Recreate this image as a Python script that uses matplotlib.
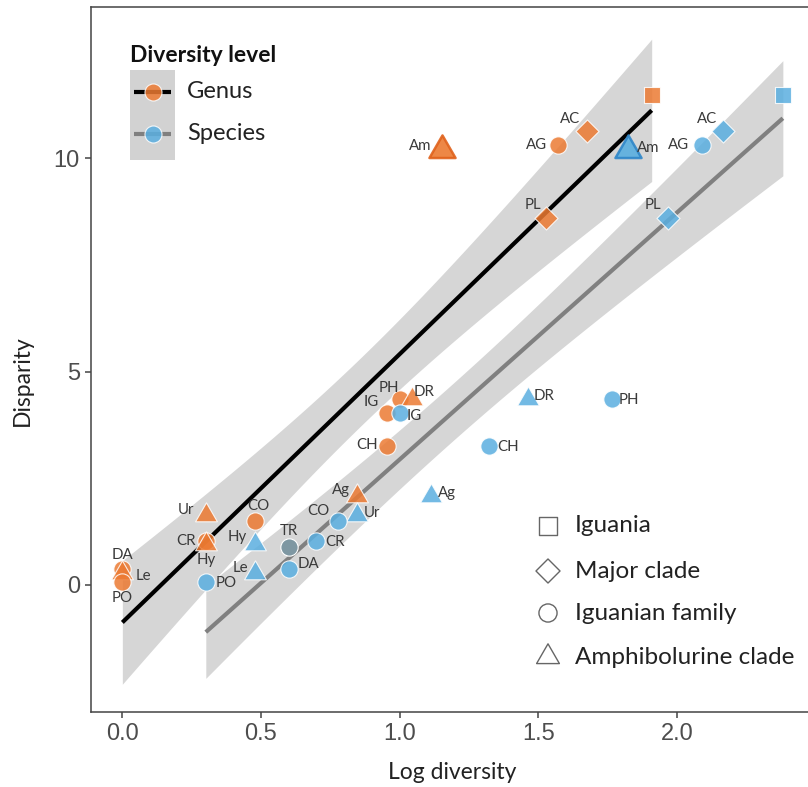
import matplotlib
matplotlib.use('Agg')
import matplotlib.pyplot as plt
import numpy as np
from matplotlib.path import Path

# ---------------- data ----------------
shape_names = ['Iguania', 'Major clade', 'Iguanian family', 'Amphibolurine clade']

genus_labels = ['', 'AC', 'AG', 'Am', 'PL', 'PH', 'DR', 'IG', 'CH', 'Ag', 'Ur', 'CO', 'CR', 'Hy', 'DA', 'Le', 'PO']
genus_x = [1.909, 1.675, 1.571, 1.153, 1.528, 1.000, 1.045, 0.954, 0.954, 0.845, 0.301, 0.477, 0.301, 0.301, 0.000, 0.000, 0.000]
genus_y = [11.48, 10.64, 10.31, 10.20, 8.60, 4.37, 4.36, 4.04, 3.26, 2.09, 1.64, 1.51, 1.04, 0.95, 0.38, 0.28, 0.07]
genus_shape = ['Iguania', 'Major clade', 'Iguanian family', 'Amphibolurine clade', 'Major clade',
               'Iguanian family', 'Amphibolurine clade', 'Iguanian family', 'Iguanian family',
               'Amphibolurine clade', 'Amphibolurine clade', 'Iguanian family', 'Iguanian family',
               'Amphibolurine clade', 'Iguanian family', 'Amphibolurine clade', 'Iguanian family']

species_labels = ['', 'AC', 'AG', 'Am', 'PL', 'DR', 'PH', 'IG', 'CH', 'Ag', 'Ur', 'CO', 'TR', 'CR', 'DA', 'Le', 'Hy', 'PO']
species_x = [2.382, 2.166, 2.090, 1.824, 1.968, 1.463, 1.765, 1.000, 1.322, 1.113, 0.845, 0.778, 0.602, 0.699, 0.602, 0.477, 0.477, 0.301]
species_y = [11.48, 10.64, 10.31, 10.20, 8.60, 4.36, 4.37, 4.04, 3.26, 2.09, 1.64, 1.51, 0.89, 1.04, 0.38, 0.28, 0.95, 0.07]
species_shape = ['Iguania', 'Major clade', 'Iguanian family', 'Amphibolurine clade', 'Major clade',
                 'Amphibolurine clade', 'Iguanian family', 'Iguanian family', 'Iguanian family',
                 'Amphibolurine clade', 'Amphibolurine clade', 'Iguanian family', 'Iguanian family',
                 'Iguanian family', 'Iguanian family', 'Amphibolurine clade', 'Amphibolurine clade',
                 'Iguanian family']

# regression fits: intercept, slope, x-range; CI half-width = sqrt(a + b (x - c)^2)
genus_fit = {'intercept': -0.88, 'slope': 6.29, 'xmin': 0.0, 'xmax': 1.909, 'a': 0.64, 'b': 1.96, 'c': 0.863}
species_fit = {'intercept': -2.85, 'slope': 5.79, 'xmin': 0.301, 'xmax': 2.382, 'a': 0.45, 'b': 0.945, 'c': 1.177}

level_names = ['Genus', 'Species']
x_ticks = [0.0, 0.5, 1.0, 1.5, 2.0]
y_ticks = [0, 5, 10]

# ---------------- style ----------------
ORANGE = '#EC7A32'
BLUE = '#5AAEE0'
TR_COLOR = '#7E97A2'
PT_ALPHA = 0.85
LINE_COLORS = {'Genus': 'black', 'Species': '#808080'}
BAND = '#D6D6D6'
LABEL_FONT = ['Lato', 'DejaVu Sans']

tri = Path([(-1, -0.577), (1, -0.577), (0, 1.155), (-1, -0.577)],
           [Path.MOVETO, Path.LINETO, Path.LINETO, Path.CLOSEPOLY])
marker_of = {'Iguania': 's', 'Major clade': 'D', 'Iguanian family': 'o', 'Amphibolurine clade': tri}
size_of = {'Iguania': 135, 'Major clade': 138, 'Iguanian family': 155, 'Amphibolurine clade': 330}

genus_off = {'AC': (-17, -12), 'AG': (-21, 0), 'Am': (-22, -4), 'PL': (-13, -13), 'PH': (-11, -11),
             'DR': (12, -7), 'IG': (-16, -11), 'CH': (-20, -1), 'Ag': (-16, -6), 'Ur': (-20, -5),
             'CO': (4, -15), 'CR': (-20, 0), 'Hy': (0, 16), 'DA': (0, -14), 'Le': (21, 3), 'PO': (0, 16)}
species_off = {'AC': (-16, -12), 'AG': (-23, 0), 'Am': (20, -2), 'PL': (-15, -13), 'DR': (16, -3),
               'PH': (17, 1), 'IG': (15, 3), 'CH': (19, 1), 'Ag': (16, -3), 'Ur': (15, -2),
               'CO': (-20, -10), 'TR': (0, -16), 'CR': (19, 1), 'DA': (19, -5), 'Le': (-14, -5),
               'Hy': (-17, -7), 'PO': (20, 1)}

W, H = 808, 787
fig = plt.figure(figsize=(W / 100, H / 100), dpi=100)
# axes pixel box: left 91, right 812.8, top 7, bottom 712
axl, axr, axt, axb = 91, 812.8, 7, 712
ax = fig.add_axes([axl / W, 1 - axb / H, (axr - axl) / W, (axb - axt) / H])
ax.set_xlim(-0.113, 2.49)
ax.set_ylim(-2.98, 13.55)


def fx(px):
    return (px - axl) / (axr - axl)


def fy(py):
    return (axb - py) / (axb - axt)


# bands and lines
for fit, lvl in [(genus_fit, 'Genus'), (species_fit, 'Species')]:
    xs = np.linspace(fit['xmin'], fit['xmax'], 200)
    yhat = fit['intercept'] + fit['slope'] * xs
    hw = np.sqrt(fit['a'] + fit['b'] * (xs - fit['c']) ** 2)
    ax.fill_between(xs, yhat - hw, yhat + hw, color=BAND, lw=0, zorder=1)
for fit, lvl in [(genus_fit, 'Genus'), (species_fit, 'Species')]:
    xs = np.array([fit['xmin'], fit['xmax']])
    ax.plot(xs, fit['intercept'] + fit['slope'] * xs, color=LINE_COLORS[lvl], lw=3,
            solid_capstyle='butt', zorder=2)


def draw_points(xs, ys, shapes, labels, color, edge_dark, offs):
    for x, y, sh, lab in zip(xs, ys, shapes, labels):
        c = TR_COLOR if lab == 'TR' else color
        if lab == 'Am':
            ax.scatter([x], [y], marker=marker_of[sh], s=470, facecolor=color, edgecolor=edge_dark,
                       linewidths=1.8, alpha=0.9, zorder=3)
        else:
            ax.scatter([x], [y], marker=marker_of[sh], s=size_of[sh], facecolor=c, edgecolor='white',
                       linewidths=0.8, alpha=PT_ALPHA if lab != 'TR' else 1.0, zorder=3)
        if lab:
            dx, dy = offs[lab]
            ax.annotate(lab, (x, y), xytext=(dx * 0.72, -dy * 0.72), textcoords='offset points',
                        ha='center', va='center', fontsize=10.8, color='#3a3a3a',
                        family=LABEL_FONT, zorder=4)


draw_points(genus_x, genus_y, genus_shape, genus_labels, ORANGE, '#E0621C', genus_off)
draw_points(species_x, species_y, species_shape, species_labels, BLUE, '#2F86C8', species_off)

# axes styling
for s in ['left', 'bottom', 'top', 'right']:
    ax.spines[s].set_color('#444444')
    ax.spines[s].set_linewidth(1.1)
ax.set_xticks(x_ticks)
ax.set_xticklabels([f'{t:.1f}' for t in x_ticks])
ax.set_yticks(y_ticks)
ax.set_yticklabels([str(t) for t in y_ticks])
ax.tick_params(axis='both', length=4, width=1.1, color='#444444', labelcolor='#4d4d4d',
               labelsize=17, pad=4)
for lab in ax.get_xticklabels() + ax.get_yticklabels():
    lab.set_family(['Liberation Sans', 'DejaVu Sans'])
ax.set_xlabel('Log diversity', fontsize=16.5, family=LABEL_FONT, color='#222222', labelpad=12)
ax.set_ylabel('Disparity', fontsize=16.5, family=LABEL_FONT, color='#222222', labelpad=14)
ax.yaxis.set_label_coords(-0.081, 0.47)

# level legend (top-left)
tA = ax.transAxes
ax.text(fx(130), fy(55), 'Diversity level', transform=tA, fontsize=16.5, fontweight='bold',
        family=LABEL_FONT, ha='left', va='center', color='#111111')
ax.add_patch(plt.Rectangle((fx(130), fy(160)), fx(175) - fx(130), fy(70) - fy(160),
                           transform=tA, color='#D2D2D2', lw=0, zorder=2))
for lvl, col, py in [('Genus', ORANGE, 92), ('Species', BLUE, 134)]:
    ax.plot([fx(134), fx(171)], [fy(py), fy(py)], transform=tA, color=LINE_COLORS[lvl], lw=3,
            solid_capstyle='butt', zorder=3)
    ax.scatter([fx(152.5)], [fy(py)], transform=tA, marker='o', s=150, facecolor=col,
               edgecolor='white', linewidths=0.8, alpha=PT_ALPHA, zorder=4)
    ax.text(fx(187), fy(py), lvl, transform=tA, fontsize=17, family=LABEL_FONT,
            ha='left', va='center', color='#222222')

# shape legend (bottom-right)
for name, py in zip(shape_names, [526, 571, 613, 657]):
    sz = {'Iguania': 150, 'Major clade': 150, 'Iguanian family': 170, 'Amphibolurine clade': 360}[name]
    ax.scatter([fx(548)], [fy(py)], transform=tA, marker=marker_of[name], s=sz, facecolor='none',
               edgecolor='#666666', linewidths=1.0, zorder=4)
    ax.text(fx(575), fy(py), name, transform=tA, fontsize=17.5, family=LABEL_FONT,
            ha='left', va='center', color='#222222')

fig.savefig('out.png', dpi=100)
